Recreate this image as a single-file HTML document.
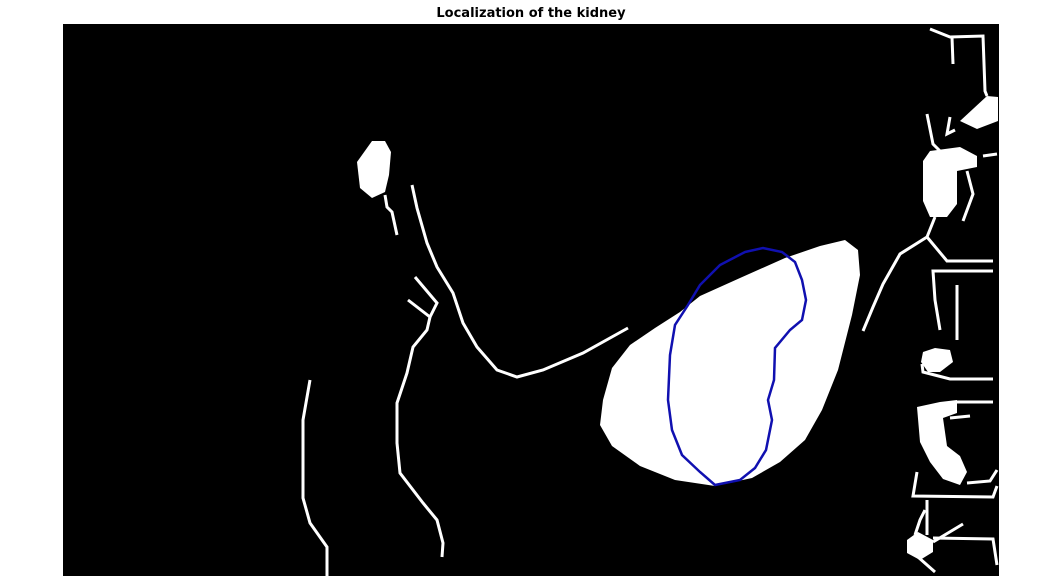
<!DOCTYPE html>
<html><head><meta charset="utf-8"><style>
html,body{margin:0;padding:0;background:#fff;width:1041px;height:585px;overflow:hidden}
svg{display:block}
</style></head><body>
<svg width="1041" height="585" viewBox="0 0 1041 585">
<text x="531" y="17" text-anchor="middle" font-family="DejaVu Sans, Liberation Sans, sans-serif" font-weight="bold" font-size="13" fill="#000">Localization of the kidney</text>
<rect x="63" y="24" width="936" height="552" fill="#000"/>
<g fill="#fff">
<polygon points="603,400 612,368 630,345 655,328 680,312 700,296 740,278 785,258 820,246 845,240 858,250 860,275 852,315 838,370 822,410 805,440 780,462 752,478 715,486 675,480 640,466 612,446 600,425"/>
<polygon points="372,141 385,141 391,152 389,175 385,192 372,198 360,188 357,162"/>
<polygon points="960,121 987,96 998,97 998,121 977,129"/>
<polygon points="930,151 960,147 977,156 977,167 957,171 957,204 947,217 930,217 923,201 923,161"/>
<polygon points="923,352 935,348 950,350 953,362 940,372 928,372 921,362"/>
<polygon points="917,407 940,402 957,400 957,413 943,418 947,446 960,456 967,472 960,485 943,479 930,462 920,442"/>
<polygon points="907,540 918,532 933,540 933,552 920,560 907,553"/>
</g>
<g fill="none" stroke="#fff" stroke-width="3" stroke-linejoin="miter">
<polyline points="385,195 387,207 392,212 397,235"/>
<polyline points="412,185 417,208 427,243 437,267 453,293 463,323 477,347 497,370 517,377 543,370 583,353 628,328"/>
<polyline points="415,277 437,303 430,317 408,300"/>
<polyline points="430,317 427,330 413,347 407,373 397,403 397,443 400,473 423,503 437,520 443,543 442,557"/>
<polyline points="310,380 303,420 303,498 310,523 327,547 327,576"/>
<polyline points="930,29 950,37 983,36 985,91 987,96"/>
<polyline points="952,37 953,64"/>
<polyline points="927,114 933,144 940,151"/>
<polyline points="950,117 947,134 955,130"/>
<polyline points="967,171 973,194 963,221"/>
<polyline points="983,156 997,154"/>
<polyline points="935,217 927,237 900,254 883,284 873,307 863,331"/>
<polyline points="927,237 947,261 993,261"/>
<polyline points="993,271 933,271 935,300 940,330"/>
<polyline points="957,285 957,340"/>
<polyline points="922,364 923,372 950,379 993,379"/>
<polyline points="957,402 993,402"/>
<polyline points="950,418 970,416"/>
<polyline points="917,472 913,496 993,497 997,486"/>
<polyline points="967,483 990,481 997,470"/>
<polyline points="927,500 927,535"/>
<polyline points="933,542 963,524"/>
<polyline points="933,538 993,539 997,565"/>
<polyline points="918,557 935,572"/>
<polyline points="925,510 920,520 915,535"/>
</g>
<polygon fill="none" stroke="#1010b0" stroke-width="2.5" points="745,252 763,248 782,252 795,262 802,280 806,300 802,320 790,330 775,348 774,380 768,400 772,420 766,450 755,468 740,480 715,485 700,472 682,455 672,430 668,400 670,355 675,325 688,305 700,285 720,265"/>
</svg>
</body></html>
